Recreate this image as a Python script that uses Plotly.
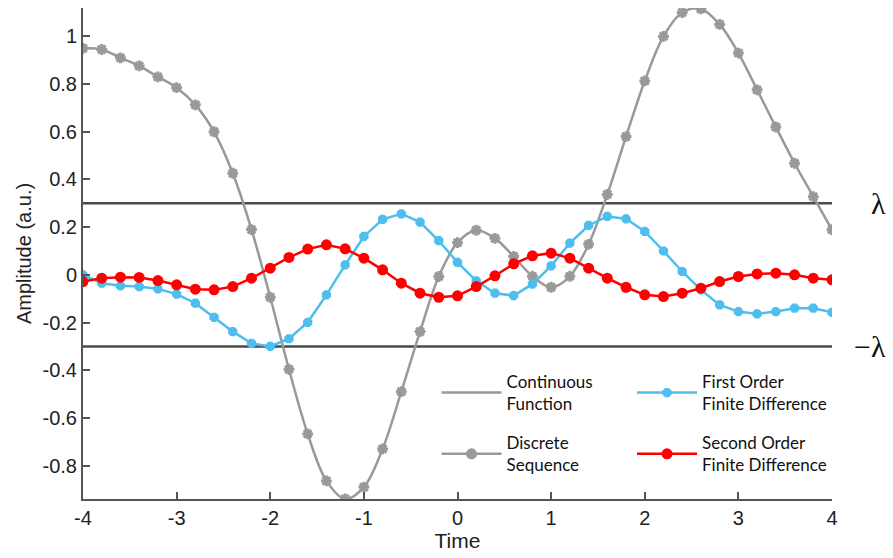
import plotly.graph_objects as go

time = [round(-4 + 0.2 * i, 1) for i in range(41)]

discrete = [0.95, 0.945, 0.91, 0.876, 0.83, 0.785, 0.713, 0.60, 0.426, 0.19,
            -0.094, -0.396, -0.667, -0.864, -0.94, -0.89, -0.73, -0.49, -0.238, -0.007,
            0.135, 0.187, 0.153, 0.077, -0.006, -0.052, -0.006, 0.128, 0.337, 0.58,
            0.813, 1.0, 1.10, 1.115, 1.05, 0.93, 0.776, 0.62, 0.468, 0.328, 0.189]

first_order = [0.0, -0.035, -0.046, -0.049, -0.059, -0.081, -0.119, -0.178, -0.238, -0.287,
               -0.300, -0.268, -0.199, -0.084, 0.042, 0.161, 0.233, 0.256, 0.221, 0.143,
               0.052, -0.025, -0.077, -0.087, -0.039, 0.038, 0.133, 0.207, 0.245, 0.235,
               0.182, 0.10, 0.014, -0.063, -0.126, -0.154, -0.164, -0.154, -0.140, -0.140, -0.157]

second_order = [-0.028, -0.014, -0.010, -0.011, -0.024, -0.042, -0.060, -0.063, -0.049, -0.014,
                0.028, 0.073, 0.108, 0.126, 0.109, 0.070, 0.021, -0.035, -0.077, -0.094,
                -0.088, -0.049, -0.004, 0.046, 0.080, 0.091, 0.070, 0.028, -0.014, -0.052,
                -0.084, -0.091, -0.077, -0.056, -0.028, -0.007, 0.004, 0.007, 0.0, -0.014, -0.021]

lam = 0.3

x_ticks = [-4, -3, -2, -1, 0, 1, 2, 3, 4]
x_ticktext = ["-4", "-3", "-2", "-1", "0", "1", "2", "3", "4"]
y_ticks = [-0.8, -0.6, -0.4, -0.2, 0, 0.2, 0.4, 0.6, 0.8, 1]
y_ticktext = ["-0.8", "-0.6", "-0.4", "-0.2", "0", "0.2", "0.4", "0.6", "0.8", "1"]

GRAY = "#999999"
BLUE = "#4DBEEE"
RED = "#FF0000"
DARK = "#4a4a4a"
SANS = "Liberation Sans"

fig = go.Figure()

# threshold lines
for v in (lam, -lam):
    fig.add_trace(go.Scatter(x=[time[0], time[-1]], y=[v, v], mode="lines",
                             line=dict(color=DARK, width=2.5), showlegend=False,
                             hoverinfo="skip"))

# continuous function
fig.add_trace(go.Scatter(x=time, y=discrete, mode="lines", line_shape="spline",
                         line=dict(color=GRAY, width=2.5), name="Continuous<br>Function",
                         legend="legend", legendgroup="a"))
# discrete markers
fig.add_trace(go.Scatter(x=time, y=discrete, mode="markers",
                         marker=dict(symbol="asterisk-open", size=9, color=GRAY,
                                     line=dict(color=GRAY, width=3)),
                         showlegend=False))
fig.add_trace(go.Scatter(x=[None], y=[None], mode="lines+markers",
                         line=dict(color=GRAY, width=2.5),
                         marker=dict(symbol="circle", size=11, color=GRAY),
                         name="Discrete<br>Sequence", legend="legend", legendgroup="b"))

fig.add_trace(go.Scatter(x=time, y=first_order, mode="lines+markers",
                         line=dict(color=BLUE, width=2.5),
                         marker=dict(symbol="octagon", size=10, color=BLUE),
                         name="First Order<br>Finite Difference", legend="legend2",
                         legendgroup="c"))
fig.add_trace(go.Scatter(x=time, y=second_order, mode="lines+markers",
                         line=dict(color=RED, width=2.5),
                         marker=dict(symbol="circle", size=11, color=RED),
                         name="Second Order<br>Finite Difference", legend="legend2",
                         legendgroup="d"))

legend_common = dict(font=dict(family="Lato, Open Sans, sans-serif", size=17, color="#111"),
                     bgcolor="rgba(0,0,0,0)", tracegroupgap=14, itemwidth=60,
                     yanchor="top", xanchor="left")

fig.update_layout(
    width=893, height=558,
    margin=dict(l=83, r=61, t=8, b=59),
    paper_bgcolor="white", plot_bgcolor="white",
    font=dict(family=SANS, color="#222"),
    legend=dict(x=0.472, y=0.275, **legend_common),
    legend2=dict(x=0.733, y=0.275, **legend_common),
    xaxis=dict(range=[-4, 4], tickvals=x_ticks, ticktext=x_ticktext,
               showgrid=False, zeroline=False, showline=True, linecolor="#555",
               linewidth=2, ticks="inside", ticklen=7, tickwidth=2, tickcolor="#555",
               tickfont=dict(family=SANS, size=20, color="#222"),
               title=dict(text="Time", font=dict(family=SANS, size=21, color="#222"), standoff=2)),
    yaxis=dict(range=[-0.94, 1.119], tickvals=y_ticks, ticktext=y_ticktext,
               showgrid=False, zeroline=False, showline=True, linecolor="#555",
               linewidth=2, ticks="inside", ticklen=7, tickwidth=2, tickcolor="#555",
               tickfont=dict(family=SANS, size=20, color="#222"),
               title=dict(text="Amplitude (a.u.)", font=dict(family=SANS, size=20, color="#222"), standoff=6)),
)

fig.add_annotation(x=1.075, y=lam, xref="paper", yref="y", text="λ", showarrow=False,
                   xanchor="right", yanchor="middle",
                   font=dict(family="Liberation Serif, serif", size=30, color="#111"))
fig.add_annotation(x=1.075, y=-lam, xref="paper", yref="y", text="−λ", showarrow=False,
                   xanchor="right", yanchor="middle",
                   font=dict(family="Liberation Serif, serif", size=30, color="#111"))

fig.write_html("out.html")
